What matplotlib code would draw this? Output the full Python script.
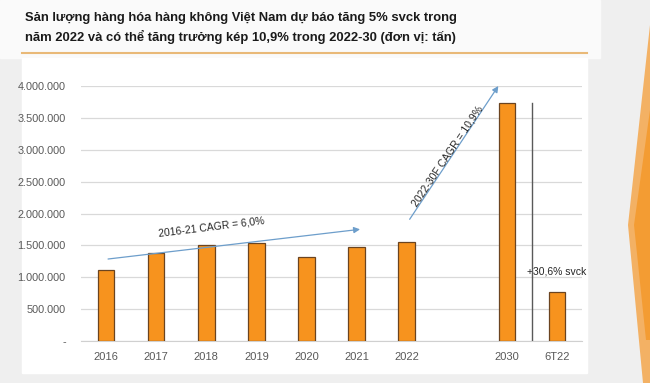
import numpy as np
import matplotlib.pyplot as plt
from matplotlib.patches import Rectangle, Polygon
from matplotlib.ticker import FuncFormatter

plt.rcParams['font.family'] = ['Liberation Sans', 'DejaVu Sans']

# data (tan)
labels = ['2016', '2017', '2018', '2019', '2020', '2021', '2022', '2030', '6T22']
xpos = [0, 1, 2, 3, 4, 5, 6, 8, 9]
values = [1110000, 1385000, 1505000, 1530000, 1320000, 1480000, 1555000, 3740000, 775000]
yticks = [0, 500000, 1000000, 1500000, 2000000, 2500000, 3000000, 3500000, 4000000]

title = ("Sản lượng hàng hóa hàng không Việt Nam dự báo tăng 5% svck trong\n"
         "năm 2022 và có thể tăng trưởng kép 10,9% trong 2022-30 (đơn vị: tấn)")

W, H = 650, 383
fig = plt.figure(figsize=(W / 100, H / 100), dpi=100)
fig.patch.set_facecolor('#efefef')

# background panels (figure pixel coords)
bg = fig.add_axes([0, 0, 1, 1])
bg.set_xlim(0, W)
bg.set_ylim(H, 0)
bg.axis('off')
bg.add_patch(Rectangle((0, 0), 600, 58, color='#fafafa', zorder=0))
bg.add_patch(Rectangle((22, 58), 565, 315, color='white', zorder=1))
bg.plot([22, 587], [53, 53], color='#e9b978', lw=1.5, zorder=2)
bg.add_patch(Polygon([(650, 25), (628, 225), (643, 383), (650, 383)],
                     closed=True, color='#f4a64c', alpha=0.85, zorder=2, lw=0))
bg.add_patch(Polygon([(650, 110), (634, 225), (646, 340), (650, 340)],
                     closed=True, color='#f39a2e', alpha=0.9, zorder=3, lw=0))
bg.text(25, 28, title, fontsize=9.4, fontweight='bold', color='#1a1a1a',
        va='center', ha='left', linespacing=1.5)

ax = fig.add_axes([81 / W, 1 - 341 / H, (582 - 81) / W, (341 - 86) / H])
ax.set_facecolor('none')
ax.bar(xpos, values, width=0.33, color='#f7931e', edgecolor='#6b4420', linewidth=0.9, zorder=3)

ax.set_xlim(-0.5, 9.5)
ax.set_ylim(0, 4000000)
ax.set_yticks(yticks)
ax.yaxis.set_major_formatter(FuncFormatter(
    lambda v, p: '-' if v == 0 else f'{int(v):,}'.replace(',', '.')))
ax.set_xticks(xpos)
ax.set_xticklabels(labels)
ax.tick_params(length=0, labelsize=8, colors='#595959', pad=8)
ax.tick_params(axis='y', labelsize=7.8, pad=11)
ax.grid(axis='y', color='#d9d9d9', lw=0.9, zorder=0)
for s in ['top', 'right', 'left']:
    ax.spines[s].set_visible(False)
ax.spines['bottom'].set_color('#d0d0d0')

# CAGR arrows
ax.annotate('', xy=(5.07, 1752000), xytext=(0.04, 1286000),
            arrowprops=dict(arrowstyle='-|>', color='#6d9ecb', lw=0.9,
                            mutation_scale=9, shrinkA=0, shrinkB=0))
ax.text(2.1, 1790000, '2016-21 CAGR = 6,0%', fontsize=7.5, color='#262626',
        rotation=7, ha='center', va='center')
ax.annotate('', xy=(7.83, 4000000), xytext=(6.06, 1909000),
            arrowprops=dict(arrowstyle='-|>', color='#6d9ecb', lw=0.9,
                            mutation_scale=9, shrinkA=0, shrinkB=0),
            annotation_clip=False)
ax.text(6.82, 2900000, '2022-30F CAGR = 10,9%', fontsize=7.5, color='#262626',
        rotation=56, ha='center', va='center')

# 6T22 separator
ax.plot([8.5, 8.5], [0, 3730000], color='#595959', lw=1, zorder=4)
ax.text(8.4, 1087000, '+30,6% svck', fontsize=7.5, color='#262626', ha='left', va='center')

fig.savefig('out.png', dpi=100, facecolor=fig.get_facecolor())
